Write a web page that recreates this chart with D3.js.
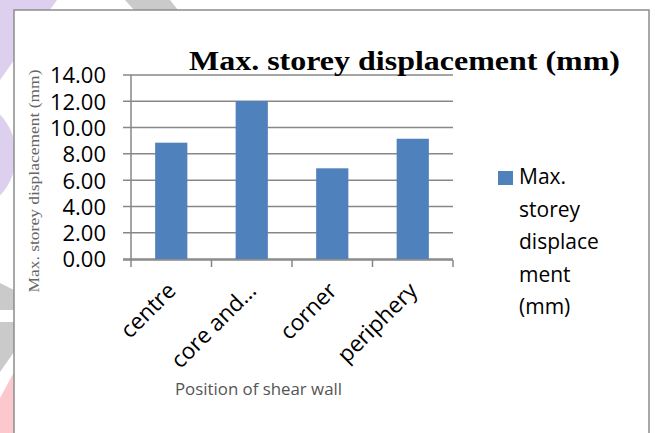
<!DOCTYPE html>
<html>
<head>
<meta charset="utf-8">
<script src="https://cdn.jsdelivr.net/npm/d3@7"></script>
<style>
    html, body { margin: 0; padding: 0; background: #fff; }
    #chart-area { width: 655px; height: 433px; overflow: hidden; }
    .tick-label { font-family: "Open Sans", sans-serif; font-size: 22px; fill: #000; }
    .x-label { font-size: 22.5px; }
    .legend-label { font-family: "Open Sans", sans-serif; font-size: 21px; fill: #000; }
    .chart-title { font-family: "Liberation Serif", "Times New Roman", serif; font-weight: bold; font-size: 28px; fill: #000; }
    .axis-title-y { font-family: "Liberation Serif", "Times New Roman", serif; font-size: 15px; fill: #666; }
    .axis-title-x { font-family: "Open Sans", sans-serif; font-size: 16px; fill: #555; }
</style>
</head>
<body>
<div id="chart-area"></div>
<script>
// data
var categories = ["centre", "core and\u2026", "corner", "periphery"];
var displacements = [8.85, 12.02, 6.9, 9.15];
var yTicks = [0, 2, 4, 6, 8, 10, 12, 14];
var seriesName = "Max. storey displacement (mm)";
var legendLines = ["Max.", "storey", "displace", "ment", "(mm)"];
var xTitle = "Position of shear wall";

var barColor = "#4f81bd";
var gridColor = "#878787";

var margin = { top: 75, right: 202, bottom: 174, left: 131 };
var width = 655 - margin.left - margin.right,
    height = 433 - margin.top - margin.bottom;

var root = d3.select("#chart-area").append("svg")
    .attr("width", 655)
    .attr("height", 433);

// faint watermark bits peeking out round the frame
var marks = root.append("g").attr("class", "watermark");
marks.append("path").attr("d", "M0,0 L57,0 L0,80 Z").attr("fill", "#ddd0ef");
marks.append("ellipse").attr("cx", -40).attr("cy", 155).attr("rx", 56).attr("ry", 58).attr("fill", "#ddd0ef");
marks.append("path").attr("d", "M125,0 L170,0 L178,10 L134,10 Z").attr("fill", "#cacaca");
marks.append("path").attr("d", "M0,283 L14,290 L14,310 L0,310 Z").attr("fill", "#cacaca");
marks.append("path").attr("d", "M0,322 L14,322 L14,352 L0,372 Z").attr("fill", "#cacaca");
marks.append("path").attr("d", "M0,398 L14,372 L14,433 L0,433 Z").attr("fill", "#fbc9cd");

// chart frame
root.append("rect")
    .attr("x", 14)
    .attr("y", 10)
    .attr("width", 635)
    .attr("height", 440)
    .attr("fill", "#fff")
    .attr("stroke", "#8c8c8c")
    .attr("stroke-width", 1.5);

var svg = root.append("g")
    .attr("transform", "translate(" + margin.left + "," + margin.top + ")");

var x = d3.scaleBand()
    .domain(categories)
    .range([0, width])
    .paddingInner(0.6)
    .paddingOuter(0.3);

var y = d3.scaleLinear()
    .domain([0, 14])
    .range([height, 0]);

// gridlines (they poke out left of the axis like Excel's tick marks)
svg.append("g").attr("class", "grid")
    .selectAll("line")
    .data(yTicks)
    .enter()
    .append("line")
    .attr("x1", -8)
    .attr("x2", width)
    .attr("y1", function(d) { return y(d); })
    .attr("y2", function(d) { return y(d); })
    .attr("stroke", gridColor)
    .attr("stroke-width", 1.5);

// y axis labels
var yAxis = d3.axisLeft(y)
    .tickValues(yTicks)
    .tickFormat(d3.format(".2f"))
    .tickSize(8)
    .tickPadding(17);

var yAxisG = svg.append("g").attr("class", "y-axis").call(yAxis);
yAxisG.select(".domain").remove();
yAxisG.selectAll(".tick line").remove();
yAxisG.selectAll("text")
    .attr("class", "tick-label")
    .attr("font-family", null)
    .attr("font-size", null)
    .attr("dy", "0.36em");

// bars
svg.selectAll(".bar")
    .data(categories)
    .enter()
    .append("rect")
    .attr("class", "bar")
    .attr("x", function(d) { return x(d); })
    .attr("width", x.bandwidth())
    .attr("y", function(d, i) { return y(displacements[i]); })
    .attr("height", function(d, i) { return height - y(displacements[i]); })
    .attr("fill", barColor);

// axis lines
svg.append("line")
    .attr("x1", 0).attr("x2", 0)
    .attr("y1", 0).attr("y2", height + 1)
    .attr("stroke", gridColor)
    .attr("stroke-width", 1.5);

svg.append("line")
    .attr("x1", -8).attr("x2", width)
    .attr("y1", height + 1).attr("y2", height + 1)
    .attr("stroke", gridColor)
    .attr("stroke-width", 1.5);

// x axis ticks sit between categories
var boundaries = categories.map(function(d) {
    return x(d) - (x.step() - x.bandwidth()) / 2;
}).concat([width]);

svg.append("g").selectAll("line")
    .data(boundaries)
    .enter()
    .append("line")
    .attr("x1", function(d) { return d; })
    .attr("x2", function(d) { return d; })
    .attr("y1", height + 1)
    .attr("y2", height + 8)
    .attr("stroke", gridColor)
    .attr("stroke-width", 1.5);

// x axis labels, rotated
var xAxis = d3.axisBottom(x).tickSize(0).tickPadding(0);
var xAxisG = svg.append("g")
    .attr("class", "x-axis")
    .attr("transform", "translate(0," + height + ")")
    .call(xAxis);
xAxisG.select(".domain").remove();
xAxisG.selectAll("text")
    .attr("class", "tick-label x-label")
    .attr("font-family", null)
    .attr("font-size", null)
    .attr("y", 0)
    .attr("dy", 0)
    .style("text-anchor", "end")
    .attr("transform", "translate(6,33) rotate(-45)");

// titles
root.append("text")
    .attr("class", "chart-title")
    .attr("x", 189)
    .attr("y", 70)
    .attr("textLength", 431)
    .attr("lengthAdjust", "spacingAndGlyphs")
    .text(seriesName);

root.append("text")
    .attr("class", "axis-title-y")
    .attr("transform", "translate(39,181) rotate(-90)")
    .attr("text-anchor", "middle")
    .attr("textLength", 223)
    .attr("lengthAdjust", "spacingAndGlyphs")
    .text(seriesName);

root.append("text")
    .attr("class", "axis-title-x")
    .attr("x", 175)
    .attr("y", 395)
    .attr("textLength", 167)
    .attr("lengthAdjust", "spacingAndGlyphs")
    .text(xTitle);

// legend
var legend = root.append("g").attr("class", "legend");
legend.append("rect")
    .attr("x", 498)
    .attr("y", 171)
    .attr("width", 15)
    .attr("height", 14)
    .attr("fill", barColor);

legend.selectAll("text")
    .data(legendLines)
    .enter()
    .append("text")
    .attr("class", "legend-label")
    .attr("x", 519)
    .attr("y", function(d, i) { return 184 + i * 32.5; })
    .text(function(d) { return d; });
</script>
</body>
</html>
